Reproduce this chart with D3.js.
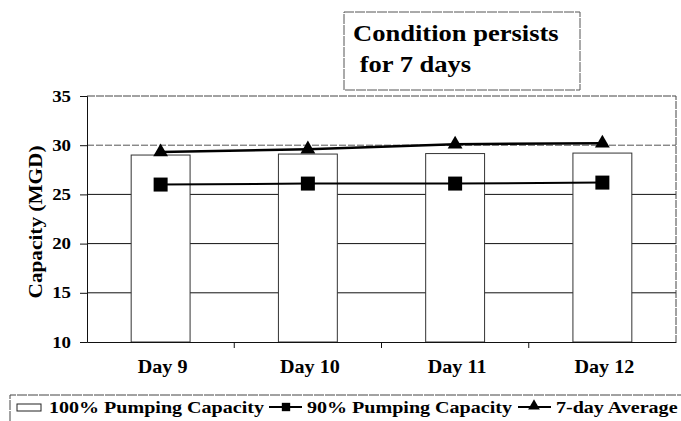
<!DOCTYPE html>
<html>
<head>
<meta charset="utf-8">
<script src="https://cdn.jsdelivr.net/npm/d3@7"></script>
<style>
  html, body { margin: 0; padding: 0; background: #fff; }
  svg { display: block; }
  text { font-family: "Liberation Serif", "Times New Roman", serif; font-weight: bold; fill: #000; }
</style>
</head>
<body>
<div id="chart"></div>
<script>
// chart data
const days = ["Day 9", "Day 10", "Day 11", "Day 12"];
const full = [29.0, 29.1, 29.15, 29.2];     // 100% Pumping Capacity
const ninety = [26.0, 26.1, 26.1, 26.2];    // 90% Pumping Capacity
const avg7 = [29.3, 29.6, 30.1, 30.2];      // 7-day Average
const yTicks = [10, 15, 20, 25, 30, 35];
const legendItems = ["100% Pumping Capacity", "90% Pumping Capacity", "7-day Average"];

const W = 681, H = 421;
const margin = { top: 96, right: 5, bottom: 79, left: 87 };
const width = W - margin.left - margin.right;
const height = H - margin.top - margin.bottom;
const SX = 1.18; // the scanned text is a bit wider than the font

const svg = d3.select("#chart").append("svg")
    .attr("width", W)
    .attr("height", H);

const g = svg.append("g")
    .attr("transform", `translate(${margin.left},${margin.top})`);

const x = d3.scaleBand()
    .domain(days)
    .range([0, width])
    .paddingInner(0.6)
    .paddingOuter(0.3);

const xCat = d3.scaleBand().domain(days).range([0, width]);

const y = d3.scaleLinear()
    .domain([10, 35])
    .range([height, 0]);

// gridlines
g.selectAll(".grid")
    .data(yTicks.filter(d => d > 10 && d < 35))
    .enter().append("line")
    .attr("x1", 0).attr("x2", width)
    .attr("y1", d => y(d)).attr("y2", d => y(d))
    .attr("stroke", d => d === 30 ? "#555" : "#111")
    .attr("stroke-dasharray", d => d === 30 ? "7,2" : null)
    .attr("stroke-width", 1);

// plot frame (top + right)
g.append("path")
    .attr("d", `M0,${y(35)}H${width}V${height}`)
    .attr("fill", "none").attr("stroke", "#444").attr("stroke-width", 1)
    .attr("stroke-dasharray", "8,1");

// bars
g.selectAll(".bar")
    .data(full)
    .enter().append("rect")
    .attr("x", (d, i) => x(days[i]))
    .attr("width", x.bandwidth())
    .attr("y", d => y(d))
    .attr("height", d => height - y(d))
    .attr("fill", "#fff").attr("stroke", "#333").attr("stroke-width", 1);

// y axis
const yAxis = g.append("g")
    .call(d3.axisLeft(y).tickValues(yTicks).tickSize(7).tickPadding(9));
yAxis.select(".domain").attr("stroke", "#111");
yAxis.selectAll("line").attr("stroke", "#111");
yAxis.selectAll("text")
    .attr("font-size", 16)
    .attr("x", -16 / SX)
    .attr("transform", `scale(${SX},1)`);

// x axis
const xAxis = g.append("g")
    .attr("transform", `translate(0,${height})`)
    .call(d3.axisBottom(xCat).tickSize(0).tickPadding(18));
xAxis.select(".domain").attr("stroke", "#111");
xAxis.selectAll("text")
    .attr("font-size", 18)
    .attr("transform", "translate(2,0) scale(1.12,1)");
// category separator ticks
g.selectAll(".xtick")
    .data(days.slice(1))
    .enter().append("line")
    .attr("x1", d => xCat(d)).attr("x2", d => xCat(d))
    .attr("y1", height).attr("y2", height + 6)
    .attr("stroke", "#111");

// lines
const cx = i => xCat(days[i]) + xCat.bandwidth() / 2;
const line = d3.line().x((d, i) => cx(i)).y(d => y(d));

g.append("path").datum(ninety)
    .attr("d", line).attr("fill", "none").attr("stroke", "#000").attr("stroke-width", 2);
g.append("path").datum(avg7)
    .attr("d", line).attr("fill", "none").attr("stroke", "#000").attr("stroke-width", 2.5);

g.selectAll(".sq")
    .data(ninety)
    .enter().append("path")
    .attr("transform", (d, i) => `translate(${cx(i)},${y(d)})`)
    .attr("d", d3.symbol(d3.symbolSquare, 196));

g.selectAll(".tri")
    .data(avg7)
    .enter().append("path")
    .attr("transform", (d, i) => `translate(${cx(i)},${y(d)})`)
    .attr("d", d3.symbol(d3.symbolTriangle, 95));

// y axis title
svg.append("text")
    .attr("transform", `translate(42,222) rotate(-90) scale(1.12,1)`)
    .attr("text-anchor", "middle")
    .attr("font-size", 19)
    .text("Capacity (MGD)");

// annotation box
svg.append("rect")
    .attr("x", 344).attr("y", 12).attr("width", 236).attr("height", 78)
    .attr("fill", "#fff").attr("stroke", "#555").attr("stroke-width", 1)
    .attr("stroke-dasharray", "10,1");
const note = ["Condition persists", " for 7 days"];
svg.selectAll(".note")
    .data(note)
    .enter().append("text")
    .attr("transform", (d, i) => `translate(353,${41 + i * 31}) scale(${SX},1)`)
    .attr("font-size", 22.5)
    .attr("xml:space", "preserve")
    .style("white-space", "pre")
    .text(d => d);

// legend
const lg = svg.append("g");
lg.append("path")
    .attr("d", "M10,421V395H681")
    .attr("fill", "none").attr("stroke", "#444").attr("stroke-width", 1)
    .attr("stroke-dasharray", "10,1");

const legendX = [49, 307, 556];
const ly = 413;

lg.append("rect").attr("x", 17).attr("y", 404).attr("width", 24).attr("height", 7)
    .attr("fill", "#fff").attr("stroke", "#222");
lg.append("line").attr("x1", 269).attr("x2", 302).attr("y1", 407).attr("y2", 407).attr("stroke", "#000").attr("stroke-width", 2);
lg.append("path").attr("transform", "translate(286,407)").attr("d", d3.symbol(d3.symbolSquare, 70));
lg.append("line").attr("x1", 518).attr("x2", 551).attr("y1", 407).attr("y2", 407).attr("stroke", "#000").attr("stroke-width", 2);
lg.append("path").attr("transform", "translate(534,406)").attr("d", d3.symbol(d3.symbolTriangle, 60));

lg.selectAll(".lt")
    .data(legendItems)
    .enter().append("text")
    .attr("transform", (d, i) => `translate(${legendX[i]},${ly}) scale(${SX},1)`)
    .attr("font-size", 17)
    .text(d => d);
</script>
</body>
</html>
